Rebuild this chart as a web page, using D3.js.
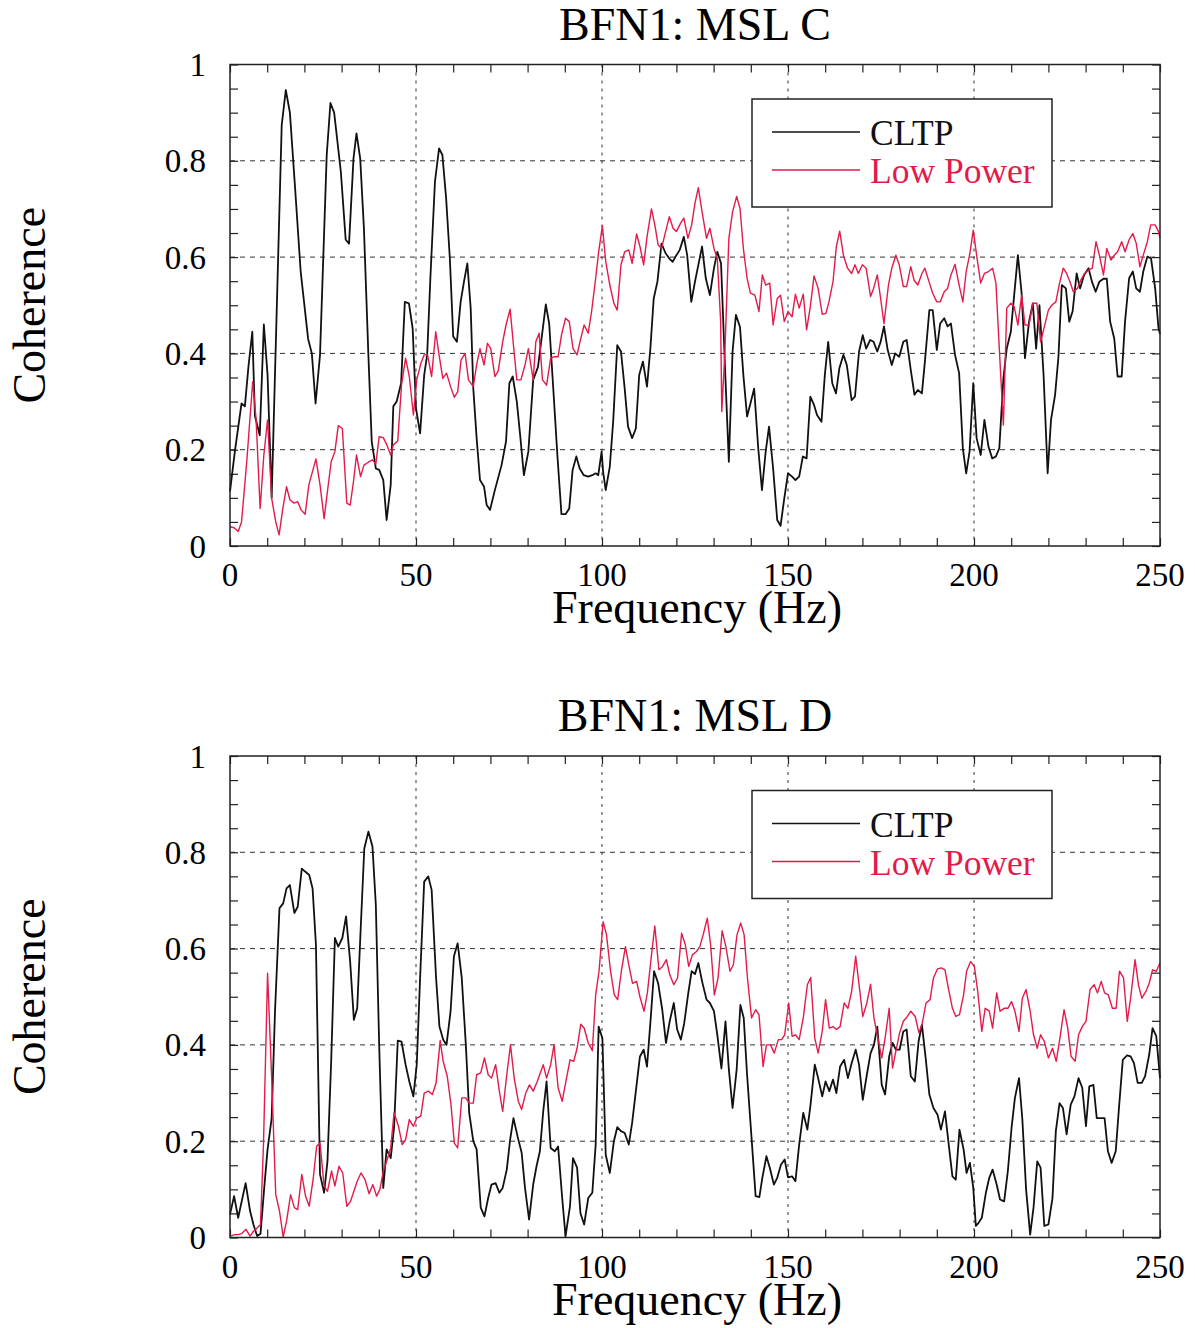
<!DOCTYPE html>
<html>
<head>
<meta charset="utf-8">
<script src="https://cdn.jsdelivr.net/npm/d3@7"></script>
<style>
  body { margin: 0; background: #fff; }
  text { font-family: "Liberation Serif", "Times New Roman", serif; }
</style>
</head>
<body>
<script>
// tick labels and names
const xTicks = [0, 50, 100, 150, 200, 250];
const yTicks = [0, 0.2, 0.4, 0.6, 0.8, 1];
const seriesNames = ["CLTP", "Low Power"];
const panelTitles = ["BFN1: MSL C", "BFN1: MSL D"];

// MSL C, CLTP
const cFreqCltp = [0,1.3,3.1,4,5,6,6.7,8,9.1,10.1,11.2,13.9,15,16.1,17.5,19,21,22,23,24.2,26,27,28,29.8,31.1,32,33.2,34,35,36,37.2,38.1,39.2,40.1,41.2,42.1,43.2,43.9,44.8,46,47,48.1,49.1,50,51.1,52.2,53,53.9,55.1,56.2,57.1,58.1,59.1,60,61,62,62.9,63.8,64.7,65.4,66.3,67.2,68.3,69,69.9,71.2,73,74.2,75.1,76,77.1,78,79,80.2,
  81.5,82.8,84.9,85.8,86.9,88,89.1,90.2,91.2,92.1,93.1,94,95.1,96.3,97.4,98.3,99,99.9,100.3,101,102.1,103,104.1,105.1,106.1,107,108.1,109.1,110,111,112.1,113,113.9,114.9,116,117.1,118.1,119,120,120.9,122,122.9,124,125,125.9,126.9,127.9,129,130.1,131,132,133,134.1,135.1,136,137.1,138,139,139.9,140.9,142,143,144,144.9,146,147.1,148,149,150,151.1,152,153,154,155,156,157,157.8,159,159.9,160.8,161.9,162.9,163.8,
  164.9,165.8,167.1,168,169.1,170.1,171,172.1,173,174,174.9,175.8,176.8,177.9,178.8,179.9,181,181.9,183,184,184.9,186,186.8,188,188.9,190,190.9,192,192.9,193.8,194.9,196,197,197.9,198.8,199.8,200.7,201.8,202.8,203.9,204.9,205.9,206.8,207.9,208.8,209.9,210.8,211.8,212.8,213.7,214.8,215.8,216.7,217.6,218.7,219.8,220.7,221.8,222.7,223.6,224.7,225.6,226.5,227.6,228.5,229.6,230.8,231.7,232.7,233.7,234.8,235.7,236.6,237.7,238.6,239.7,240.6,241.7,242.7,243.6,244.6,245.5,246.6,247.6,248.7,249.6,250];
const cCltp = [0.113,0.196,0.296,0.29,0.376,0.445,0.27,0.23,0.46,0.355,0.10,0.874,0.947,0.90,0.743,0.57,0.43,0.40,0.296,0.397,0.812,0.92,0.90,0.777,0.636,0.628,0.805,0.857,0.805,0.66,0.397,0.217,0.161,0.158,0.137,0.054,0.127,0.29,0.30,0.338,0.507,0.504,0.452,0.286,0.234,0.355,0.397,0.563,0.757,0.826,0.812,0.722,0.597,0.435,0.424,0.507,0.549,0.587,0.494,0.327,0.224,0.137,0.123,0.085,0.075,0.116,0.168,0.217,0.338,0.352,0.30,0.23,0.147,0.196,
  0.345,0.372,0.502,0.462,0.327,0.189,0.066,0.066,0.078,0.158,0.186,0.161,0.147,0.144,0.147,0.151,0.147,0.196,0.154,0.116,0.165,0.258,0.417,0.404,0.327,0.248,0.224,0.244,0.355,0.383,0.331,0.41,0.514,0.549,0.628,0.608,0.597,0.59,0.604,0.615,0.642,0.604,0.507,0.549,0.584,0.622,0.556,0.521,0.577,0.611,0.587,0.383,0.175,0.404,0.48,0.455,0.355,0.269,0.296,0.327,0.203,0.116,0.196,0.248,0.161,0.054,0.042,0.099,0.151,0.144,0.137,0.144,0.186,0.182,0.31,0.293,0.272,0.258,0.355,0.424,0.338,0.317,0.369,
  0.397,0.376,0.303,0.31,0.404,0.438,0.41,0.428,0.424,0.404,0.424,0.456,0.407,0.376,0.40,0.393,0.424,0.428,0.366,0.314,0.324,0.317,0.383,0.49,0.49,0.407,0.462,0.473,0.456,0.462,0.397,0.359,0.203,0.151,0.196,0.338,0.224,0.189,0.262,0.206,0.182,0.186,0.203,0.348,0.41,0.445,0.521,0.604,0.525,0.39,0.466,0.504,0.41,0.50,0.355,0.151,0.262,0.314,0.393,0.542,0.535,0.466,0.487,0.566,0.535,0.563,0.577,0.549,0.528,0.549,0.555,0.555,0.466,0.431,0.352,0.352,0.466,0.556,0.57,0.535,0.528,0.57,0.601,0.597,0.535,0.452,0.44];

// MSL C, Low Power
const cFreqLow = [0,1.1,2.2,3.1,4.5,6.1,7,8.1,9.1,10.1,11.2,12.3,13.2,14.2,15.2,16.1,17.2,18.2,19.1,20.2,21.2,23.1,24.2,25.3,26.3,27.2,28.2,29.1,30.2,31.4,32.3,33.2,34,35.1,36,37.2,38.3,39.2,40.1,41.2,42.1,43.2,43.9,45.1,46.1,47.2,48.2,49.3,50.2,51.3,52.2,53.1,54.2,55.3,56.2,57.2,58.2,59.3,60.3,61.2,62.1,63.2,64.1,65.4,66.3,67.2,68.3,69.2,70.1,71.2,72.1,73.3,74.2,75.3,76.2,77.1,78.2,79.3,80.2,
  81.5,82.2,83.1,84,85.1,86.2,87.1,88.2,89.1,90.2,91.2,92.2,93.3,94.2,95.2,96.3,97.2,98.3,99.1,100.1,101,102.1,103.2,104.1,105.1,106.1,107.2,108.1,109.3,110.2,111.2,112.1,113.3,114.2,115.1,116,117.1,118.1,119.1,120,121.1,122,123.1,124.1,125,125.9,126.9,128.1,129,130.1,131,131.9,132.2,133,134.1,135.1,136.2,137.1,138,139,139.9,141.1,142.2,143.1,144,145.1,146,147.1,148,149,150,151.1,152,153,154.1,155,156,157,158.1,159.2,160.2,161,162.1,163,163.9,
  164.9,166,167.1,168,168.9,170,171,172.2,173,174,174.9,175.8,177,177.9,179,179.9,181,181.9,183,183.9,184.9,186,186.8,187.9,188.9,190,190.9,192,192.9,193.8,194.9,196,197,197.9,198.9,199.8,200.7,201.8,202.8,203.9,205,205.9,206.8,207.9,208.8,209.9,210.8,211.8,212.8,213.7,214.8,215.8,216.9,217.9,218.8,220,220.9,222,223,224,224.9,225.8,226.7,227.8,228.7,229.7,230.8,231.8,232.8,233.7,234.8,235.7,236.8,237.7,238.6,239.7,240.6,241.7,242.7,243.6,244.6,245.5,246.6,247.5,248.7,249.6,250];
const cLow = [0.04,0.038,0.03,0.05,0.175,0.341,0.265,0.078,0.189,0.262,0.099,0.05,0.023,0.078,0.123,0.096,0.089,0.092,0.075,0.066,0.127,0.181,0.127,0.057,0.12,0.175,0.196,0.25,0.244,0.089,0.085,0.134,0.189,0.144,0.168,0.174,0.179,0.17,0.227,0.225,0.211,0.189,0.21,0.218,0.334,0.39,0.352,0.272,0.345,0.379,0.397,0.397,0.352,0.445,0.397,0.348,0.359,0.331,0.309,0.32,0.386,0.40,0.345,0.331,0.376,0.41,0.376,0.421,0.41,0.352,0.363,0.424,0.459,0.492,0.417,0.345,0.345,0.376,0.41,
  0.345,0.424,0.442,0.345,0.334,0.39,0.393,0.393,0.438,0.473,0.466,0.41,0.397,0.428,0.459,0.442,0.487,0.556,0.611,0.665,0.591,0.542,0.504,0.49,0.584,0.611,0.615,0.587,0.648,0.622,0.584,0.642,0.70,0.667,0.625,0.618,0.653,0.684,0.66,0.653,0.67,0.681,0.639,0.667,0.712,0.744,0.694,0.639,0.66,0.618,0.597,0.466,0.279,0.397,0.639,0.694,0.726,0.701,0.618,0.556,0.525,0.521,0.487,0.563,0.542,0.546,0.459,0.514,0.521,0.466,0.487,0.476,0.523,0.494,0.523,0.449,0.497,0.561,0.535,0.481,0.483,0.507,0.549,0.622,0.654,
  0.604,0.577,0.566,0.584,0.566,0.584,0.577,0.518,0.535,0.563,0.514,0.462,0.542,0.577,0.604,0.584,0.539,0.539,0.58,0.552,0.542,0.566,0.577,0.549,0.525,0.507,0.507,0.528,0.535,0.563,0.585,0.542,0.507,0.57,0.608,0.656,0.604,0.546,0.566,0.57,0.577,0.546,0.41,0.251,0.494,0.504,0.497,0.459,0.521,0.459,0.459,0.504,0.504,0.424,0.452,0.49,0.50,0.507,0.546,0.577,0.566,0.549,0.528,0.535,0.552,0.566,0.573,0.577,0.632,0.604,0.563,0.618,0.594,0.604,0.611,0.632,0.611,0.636,0.649,0.629,0.58,0.604,0.632,0.667,0.667,0.653,0.64];

// MSL D, CLTP
const dFreqCltp = [0,1.1,2.2,4.2,5.4,6.3,7.3,8.2,9.2,10.1,11.2,12.1,13.3,14.3,15.2,16.1,17.3,18.2,19.3,20.2,21.3,22.2,23.1,24.2,25.3,26.2,27.2,28.2,29.1,30.2,31.2,32.3,33.3,34.2,35.1,36.1,37.2,38.3,39.2,40.1,41.2,42.1,43.2,44.1,45.1,46.1,47.2,48.2,49.3,50.2,51.1,52.2,53.3,54.2,55.4,56.3,57.3,58.2,59.3,60.2,61.2,62.3,63.4,64.3,65.4,66.3,67.4,68.4,69.4,70.3,71.4,72.4,73.3,74.4,75.3,76.2,77.3,78.4,79.3,80.4,
  81.5,82.4,83.3,84.2,85.1,86.2,87.3,88.2,89.3,90.2,91.4,92.2,93.3,94.2,95.2,96.3,97.4,98.3,99.1,100.1,101,102.1,103.2,104.1,105.1,106.1,107.2,108.1,109.3,110.2,111.2,112.1,113.1,114,115.1,116.2,117.2,118.2,119.3,120.2,121.2,122.1,123.2,124.1,125,125.9,126.9,128.1,129,130.1,131,132.1,133.2,134.1,135.1,136.2,137.2,138.1,139,140.2,141.3,142.3,143.1,144.2,145.1,146.2,147.1,148.1,149.1,150,151.1,152,153,154.1,155.2,156,157.2,158.1,159.2,160.1,161.1,162.1,163,
  164,165.1,166.1,167.1,168.2,169.1,170.1,171.2,172.2,173.1,174,175.2,176.1,177.2,178.1,179,180,181,181.9,183,184.1,185.1,186,187,188,189.1,190.2,191.1,192.2,193.1,194.2,195.1,196.1,197.2,198,198.9,199.8,200.5,201.2,202.1,203.2,204.1,205,206.1,207,208.1,209.1,210.1,211,212.1,213,214,215.1,216,217,217.9,218.9,220,221.1,222,223,223.9,224.9,226,227,228.1,229.1,230.1,231,232.1,233,234.1,235.1,236,237,238.1,239,240,241.1,242.1,243,244,245.1,246,247.1,248,249,250];
const dCltp = [0.048,0.086,0.041,0.113,0.055,0.027,0.003,0.008,0.103,0.183,0.248,0.47,0.684,0.694,0.725,0.732,0.674,0.687,0.766,0.76,0.753,0.725,0.608,0.131,0.093,0.158,0.366,0.622,0.604,0.622,0.667,0.573,0.452,0.476,0.636,0.808,0.843,0.812,0.691,0.40,0.103,0.183,0.165,0.228,0.409,0.407,0.359,0.324,0.293,0.359,0.539,0.739,0.75,0.722,0.539,0.438,0.411,0.40,0.47,0.584,0.611,0.539,0.40,0.259,0.20,0.183,0.062,0.044,0.082,0.11,0.113,0.093,0.103,0.141,0.203,0.248,0.21,0.176,0.103,0.037,
  0.11,0.148,0.179,0.262,0.324,0.186,0.179,0.189,0.082,0.003,0.065,0.165,0.145,0.051,0.027,0.082,0.093,0.193,0.438,0.414,0.172,0.134,0.20,0.229,0.221,0.217,0.193,0.238,0.317,0.376,0.39,0.355,0.456,0.553,0.528,0.473,0.404,0.449,0.487,0.432,0.411,0.445,0.508,0.553,0.547,0.57,0.532,0.494,0.487,0.47,0.421,0.351,0.449,0.349,0.269,0.349,0.483,0.456,0.338,0.207,0.086,0.084,0.124,0.169,0.145,0.11,0.124,0.151,0.162,0.125,0.127,0.117,0.193,0.259,0.224,0.272,0.359,0.331,0.293,0.324,0.304,0.328,0.30,
  0.355,0.369,0.331,0.362,0.39,0.359,0.286,0.338,0.383,0.40,0.438,0.317,0.297,0.376,0.404,0.39,0.39,0.428,0.432,0.335,0.324,0.407,0.442,0.373,0.297,0.269,0.255,0.224,0.262,0.20,0.127,0.12,0.224,0.183,0.134,0.155,0.103,0.024,0.03,0.041,0.093,0.124,0.141,0.11,0.079,0.075,0.138,0.228,0.29,0.331,0.245,0.10,0.006,0.062,0.158,0.145,0.024,0.027,0.082,0.221,0.279,0.269,0.214,0.276,0.293,0.331,0.311,0.231,0.314,0.317,0.248,0.248,0.248,0.179,0.155,0.179,0.272,0.369,0.378,0.376,0.362,0.321,0.321,0.335,0.38,0.435,0.418,0.331];

// MSL D, Low Power
const dFreqLow = [0,1.3,2.2,3.1,4.3,5.4,6.3,7.2,8.2,9,10.1,11.2,12.3,13.3,14.3,15.2,16.3,17.3,18.2,19.3,20.3,21.3,22.4,23.3,24.2,25.3,26.2,27.3,28.2,29.3,30.3,31.4,32.4,33.3,34.2,35.2,36.3,37.4,38.4,39.4,40.3,41.2,42.1,43.2,44.1,45.3,46.3,47.2,48.2,49.3,50.2,51.3,52.2,53.3,54.4,55.4,56.5,57.3,58.4,59.4,60.3,61.2,62.3,63.4,64.3,65.4,66.3,67.4,68.4,69.4,70.3,71.4,72.4,73.3,74.4,75.4,76.4,77.5,78.4,79.5,80.5,
  81.5,82.6,84.2,85.1,86.2,87.1,88.2,89.3,90.3,91.4,92.4,93.3,94.3,95.2,96.3,97.4,98.3,99.2,100.3,101.2,102.3,103.3,104.2,105.2,106.3,107.2,108.2,109.3,110.2,111.3,112.2,113.3,114.2,115.3,116.3,117.3,118.2,119.3,120.3,121.4,122.4,123.3,124.3,125.4,126.3,127.2,128.3,129.2,130.2,131.2,132.3,133.3,134.4,135.3,136.3,137.3,138.2,139.1,140.2,141.3,142.2,143.3,144.2,145.3,146.3,147.4,148.3,149.1,150.2,151.1,152,153,154.1,155.2,156.1,157.2,158.1,159.2,160.1,161.1,162.1,163,
  164,165.1,166.1,167.1,168.2,169.1,170.1,171.2,172.2,173.1,174,175.2,176.1,177.2,178.1,179,180,181,182.1,183,184.2,185.2,186.1,187.1,188.2,189.1,190.2,191.2,192.2,193.1,194.2,195.1,196.1,197.2,198,199.1,200.1,201,202.1,203,204.1,205,206.1,207,208.1,209.1,210.1,211,212.1,213,214,215.1,216,217,217.9,218.9,220,221.1,222.1,223.1,224.2,225.2,226.1,227.2,228.1,229.1,230.1,231.2,232.3,233.2,234.2,235.1,236.1,237.2,238.2,239.1,240.2,241.2,242.1,243.3,244.2,245.1,246.2,247.1,248,249,250];
const dLow = [0.003,0.006,0.006,0.008,0.017,0.003,0.013,0.019,0.027,0.193,0.549,0.331,0.089,0.055,0.001,0.034,0.089,0.062,0.058,0.131,0.086,0.065,0.124,0.19,0.196,0.107,0.096,0.138,0.107,0.148,0.134,0.065,0.075,0.096,0.117,0.134,0.12,0.091,0.11,0.086,0.10,0.138,0.158,0.186,0.259,0.231,0.193,0.203,0.245,0.231,0.248,0.252,0.30,0.304,0.297,0.321,0.409,0.366,0.335,0.276,0.196,0.186,0.29,0.29,0.279,0.279,0.338,0.342,0.373,0.338,0.331,0.359,0.304,0.262,0.338,0.40,0.331,0.283,0.266,0.30,0.317,
  0.304,0.324,0.359,0.331,0.359,0.40,0.311,0.283,0.324,0.369,0.366,0.393,0.443,0.435,0.404,0.388,0.504,0.553,0.656,0.629,0.553,0.504,0.494,0.553,0.604,0.566,0.528,0.532,0.50,0.47,0.508,0.587,0.647,0.556,0.563,0.577,0.546,0.525,0.539,0.632,0.608,0.563,0.587,0.594,0.604,0.629,0.663,0.608,0.504,0.539,0.637,0.604,0.553,0.566,0.629,0.653,0.629,0.539,0.456,0.473,0.463,0.355,0.40,0.40,0.383,0.411,0.411,0.421,0.487,0.418,0.421,0.411,0.456,0.525,0.54,0.414,0.383,0.428,0.494,0.435,0.438,0.432,
  0.438,0.487,0.476,0.511,0.584,0.525,0.459,0.487,0.526,0.456,0.421,0.373,0.414,0.476,0.352,0.387,0.425,0.449,0.459,0.47,0.459,0.425,0.445,0.487,0.494,0.539,0.558,0.56,0.556,0.518,0.476,0.459,0.463,0.504,0.553,0.573,0.563,0.511,0.428,0.476,0.47,0.435,0.508,0.47,0.476,0.476,0.49,0.47,0.428,0.497,0.515,0.47,0.421,0.393,0.421,0.407,0.373,0.393,0.366,0.414,0.473,0.435,0.376,0.366,0.421,0.438,0.449,0.515,0.525,0.508,0.532,0.508,0.504,0.476,0.476,0.553,0.539,0.449,0.497,0.577,0.525,0.497,0.511,0.528,0.556,0.553,0.57];

const colors = ["#111", "#e31b4b"];

const svg = d3.select("body").append("svg")
  .attr("width", 1195)
  .attr("height", 1328);

function drawPanel(top, title, freqs, vals) {
  const bottom = top + 481.5;
  const x = d3.scaleLinear().domain([0, 250]).range([230, 1160]);
  const y = d3.scaleLinear().domain([0, 1]).range([bottom, top]);
  const g = svg.append("g");

  // dashed grid at the labelled ticks
  g.selectAll(".hgrid").data(yTicks.slice(1, -1)).enter().append("line")
    .attr("x1", x(0)).attr("x2", x(250))
    .attr("y1", d => y(d)).attr("y2", d => y(d))
    .attr("stroke", "#333").attr("stroke-width", 1)
    .attr("stroke-dasharray", "5,5");
  g.selectAll(".vgrid").data(xTicks.slice(1, -1)).enter().append("line")
    .attr("x1", d => x(d)).attr("x2", d => x(d))
    .attr("y1", top).attr("y2", bottom)
    .attr("stroke", "#333").attr("stroke-width", 1)
    .attr("stroke-dasharray", "3,5");

  // inward minor ticks on all four sides
  const xMinor = d3.range(0, 251, 10);
  const yMinor = d3.range(0, 1.001, 0.05);
  const tickStyle = a => a.attr("stroke", "#222").attr("stroke-width", 1.2);
  g.append("g").attr("transform", `translate(0,${bottom})`)
    .call(d3.axisBottom(x).tickValues(xMinor).tickSize(-8).tickFormat(""))
    .call(a => { a.select(".domain").remove(); tickStyle(a.selectAll("line")); });
  g.append("g").attr("transform", `translate(0,${top})`)
    .call(d3.axisTop(x).tickValues(xMinor).tickSize(-8).tickFormat(""))
    .call(a => { a.select(".domain").remove(); tickStyle(a.selectAll("line")); });
  g.append("g").attr("transform", `translate(${x(0)},0)`)
    .call(d3.axisLeft(y).tickValues(yMinor).tickSize(-8).tickFormat(""))
    .call(a => { a.select(".domain").remove(); tickStyle(a.selectAll("line")); });
  g.append("g").attr("transform", `translate(${x(250)},0)`)
    .call(d3.axisRight(y).tickValues(yMinor).tickSize(-8).tickFormat(""))
    .call(a => { a.select(".domain").remove(); tickStyle(a.selectAll("line")); });

  // data lines
  const line = d3.line().x(d => x(d[0])).y(d => y(d[1]));
  freqs.forEach((f, i) => {
    g.append("path")
      .datum(f.map((v, j) => [v, vals[i][j]]))
      .attr("fill", "none")
      .attr("stroke", colors[i])
      .attr("stroke-width", i === 0 ? 1.8 : 1.4)
      .attr("stroke-linejoin", "round")
      .attr("d", line);
  });

  // frame
  g.append("rect")
    .attr("x", x(0)).attr("y", top)
    .attr("width", x(250) - x(0)).attr("height", bottom - top)
    .attr("fill", "none").attr("stroke", "#222").attr("stroke-width", 1.5);

  // tick labels
  g.selectAll(".xl").data(xTicks).enter().append("text")
    .attr("x", d => x(d)).attr("y", bottom + 40)
    .attr("text-anchor", "middle").attr("font-size", 33)
    .text(d => d);
  g.selectAll(".yl").data(yTicks).enter().append("text")
    .attr("x", 206).attr("y", d => y(d)).attr("dy", "0.35em")
    .attr("text-anchor", "end").attr("font-size", 33)
    .text(d => (d === 0 || d === 1) ? d : d.toFixed(1));

  // titles
  g.append("text").attr("x", 695).attr("y", top - 25)
    .attr("text-anchor", "middle").attr("font-size", 46).text(title);
  g.append("text").attr("x", 697).attr("y", bottom + 77)
    .attr("text-anchor", "middle").attr("font-size", 46).text("Frequency (Hz)");
  g.append("text")
    .attr("transform", `translate(45,${(top + bottom) / 2}) rotate(-90)`)
    .attr("text-anchor", "middle").attr("font-size", 46).text("Coherence");

  // legend
  const lg = g.append("g").attr("transform", `translate(752,${top + 34.5})`);
  lg.append("rect").attr("width", 300).attr("height", 108)
    .attr("fill", "#fff").attr("stroke", "#222").attr("stroke-width", 1.5);
  seriesNames.forEach((name, i) => {
    const ly = 33 + i * 38;
    lg.append("line").attr("x1", 20).attr("x2", 108)
      .attr("y1", ly).attr("y2", ly)
      .attr("stroke", colors[i]).attr("stroke-width", 1.3);
    lg.append("text").attr("x", 118).attr("y", ly + 13)
      .attr("font-size", 35.5).attr("fill", colors[i]).text(name);
  });
}

drawPanel(64.5, panelTitles[0], [cFreqCltp, cFreqLow], [cCltp, cLow]);
drawPanel(756, panelTitles[1], [dFreqCltp, dFreqLow], [dCltp, dLow]);
</script>
</body>
</html>
